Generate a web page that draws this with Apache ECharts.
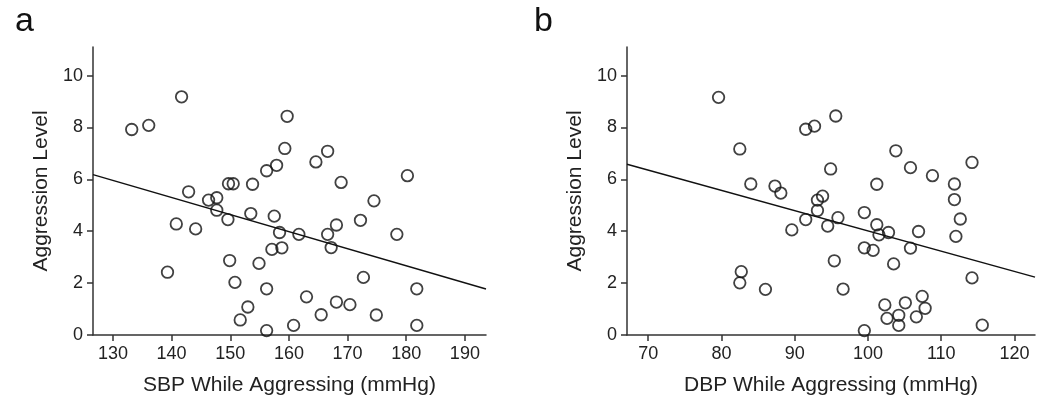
<!DOCTYPE html>
<html>
<head>
<meta charset="utf-8">
<script src="https://cdn.jsdelivr.net/npm/echarts@6/dist/echarts.min.js"></script>
<style>html,body{margin:0;padding:0;background:#fff;}#chart{width:1050px;height:406px;}</style>
</head>
<body>
<div id="chart"></div>
<script>
// Panel a: SBP vs aggression
const sbp = [133.2,136.1,141.7,159.7,159.3,157.9,156.2,153.8,150.5,149.7,164.6,166.6,168.9,142.9,146.3,147.7,147.7,149.6,153.5,157.5,140.8,144.1,158.4,161.7,166.6,168.1,167.2,157.1,158.8,139.3,149.9,154.9,150.8,156.2,163.0,168.1,153.0,151.7,156.2,160.8,165.5,180.2,174.5,172.2,178.4,172.7,181.8,170.4,174.9,181.8];
const aggrA = [7.92,8.08,9.18,8.43,7.19,6.54,6.33,5.81,5.83,5.83,6.67,7.08,5.88,5.52,5.2,5.29,4.81,4.45,4.68,4.58,4.28,4.09,3.95,3.88,3.88,4.24,3.37,3.3,3.36,2.42,2.87,2.76,2.03,1.78,1.47,1.27,1.08,0.58,0.17,0.37,0.78,6.14,5.17,4.42,3.88,2.22,1.78,1.17,0.77,0.37];
// Panel b: DBP vs aggression
const dbp = [79.6,82.5,84.0,87.3,88.1,91.5,92.7,91.5,89.6,93.1,93.1,82.7,82.5,86.0,95.6,103.8,105.8,108.8,114.2,111.8,111.8,112.6,94.9,101.2,93.8,95.9,99.5,94.5,101.2,101.5,102.8,106.9,105.8,99.5,100.7,103.5,95.4,112.0,114.2,96.6,102.3,105.1,107.4,107.8,102.6,104.2,106.6,104.2,99.5,115.6];
const aggrB = [9.16,7.17,5.82,5.74,5.47,7.93,8.05,4.45,4.05,5.2,4.8,2.44,2.01,1.76,8.44,7.1,6.45,6.14,6.65,5.82,5.22,4.47,6.4,5.81,5.35,4.52,4.72,4.2,4.25,3.86,3.95,3.99,3.35,3.36,3.26,2.74,2.86,3.8,2.2,1.77,1.16,1.24,1.49,1.03,0.64,0.76,0.7,0.37,0.17,0.38];
// Regression line endpoints
const fitAx = [126.6, 193.6];
const fitAy = [6.18, 1.77];
const fitBx = [67.1, 122.8];
const fitBy = [6.58, 2.23];
// Tick labels
const yTicks = [0,2,4,6,8,10];
const xTicksA = [130,140,150,160,170,180,190];
const xTicksB = [70,80,90,100,110,120];

const FONT = 'Liberation Sans';
const AX = '#333';
const TXT = '#222';

function xAxis(gi, min, max, ticks, name) {
  return {
    type: 'value', gridIndex: gi, min: min, max: max,
    name: name, nameLocation: 'middle', nameGap: 40,
    nameTextStyle: {fontFamily: FONT, fontSize: 21, color: TXT},
    axisLine: {show: true, onZero: false, lineStyle: {color: AX, width: 1.5}},
    axisTick: {show: true, length: 6, lineStyle: {color: AX, width: 1.5}, customValues: ticks},
    axisLabel: {fontFamily: FONT, fontSize: 18, color: TXT, margin: 10, customValues: ticks},
    splitLine: {show: false}
  };
}
function yAxis(gi) {
  return {
    type: 'value', gridIndex: gi, min: 0, max: 11.1,
    name: 'Aggression Level', nameLocation: 'middle', nameGap: 41, nameRotate: 90,
    nameTextStyle: {fontFamily: FONT, fontSize: 21, color: TXT},
    axisLine: {show: true, onZero: false, lineStyle: {color: AX, width: 1.5}},
    axisTick: {show: true, length: 6, lineStyle: {color: AX, width: 1.5}, customValues: yTicks},
    axisLabel: {fontFamily: FONT, fontSize: 18, color: TXT, margin: 10, customValues: yTicks},
    splitLine: {show: false}
  };
}
function pts(xs, ys) { return xs.map((x, i) => [x, ys[i]]); }
function scatter(gi, data) {
  return {
    type: 'scatter', xAxisIndex: gi, yAxisIndex: gi, data: data,
    symbol: 'circle', symbolSize: 11.5, clip: false, z: 3,
    itemStyle: {color: 'rgba(255,255,255,0)', borderColor: '#111', borderWidth: 1.8}
  };
}
function fit(gi, data) {
  return {
    type: 'line', xAxisIndex: gi, yAxisIndex: gi, data: data,
    symbol: 'none', z: 2, silent: true,
    lineStyle: {color: '#111', width: 1.5}
  };
}

const chart = echarts.init(document.getElementById('chart'), null, {renderer: 'canvas'});
chart.setOption({
  animation: false,
  backgroundColor: '#fff',
  title: [
    {text: 'a', left: 10, top: 0, textStyle: {fontFamily: FONT, fontSize: 34, fontWeight: 'normal', color: '#111'}},
    {text: 'b', left: 529, top: 0, textStyle: {fontFamily: FONT, fontSize: 34, fontWeight: 'normal', color: '#111'}}
  ],
  grid: [
    {left: 93, right: 564, top: 47, bottom: 71},
    {left: 627, right: 15, top: 47, bottom: 71}
  ],
  xAxis: [
    xAxis(0, 126.6, 193.6, xTicksA, 'SBP While Aggressing (mmHg)'),
    xAxis(1, 67.1, 122.8, xTicksB, 'DBP While Aggressing (mmHg)')
  ],
  yAxis: [yAxis(0), yAxis(1)],
  series: [
    fit(0, pts(fitAx, fitAy)),
    scatter(0, pts(sbp, aggrA)),
    fit(1, pts(fitBx, fitBy)),
    scatter(1, pts(dbp, aggrB))
  ]
});
</script>
</body>
</html>
